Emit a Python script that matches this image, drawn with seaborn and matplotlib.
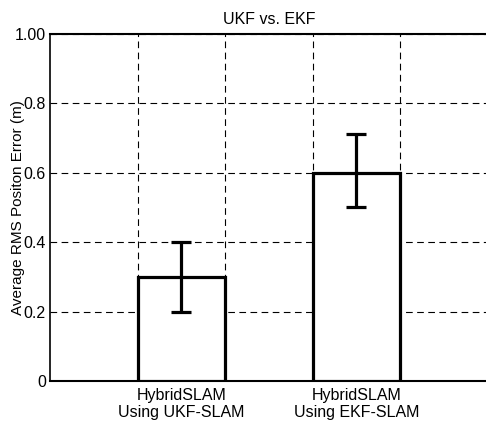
import matplotlib
matplotlib.use("Agg")
import matplotlib.pyplot as plt
import seaborn as sns
import numpy as np
import pandas as pd

categories = ["HybridSLAM\nUsing UKF-SLAM", "HybridSLAM\nUsing EKF-SLAM"]
means = [0.30, 0.60]
err_low = [0.10, 0.10]
err_high = [0.10, 0.11]
yticks = [0, 0.2, 0.4, 0.6, 0.8, 1.0]
yticklabels = ["0", "0.2", "0.4", "0.6", "0.8", "1.00"]

sns.set_theme(style="white")
plt.rcParams['font.family'] = ['Liberation Sans', 'DejaVu Sans']
FS = 11.5

df = pd.DataFrame({"cat": categories, "val": means})

fig = plt.figure(figsize=(4.86, 4.24), dpi=100)
ax = fig.add_axes([50/486, 43/424, 437.5/486, 347.5/424])

sns.barplot(data=df, x="cat", y="val", ax=ax, width=0.5, color="white",
            edgecolor="black", linewidth=2.3, errorbar=None, zorder=3)
xs = np.arange(len(categories))
ax.errorbar(xs, means, yerr=[err_low, err_high], fmt="none", ecolor="black",
            elinewidth=2.3, capsize=7.5, capthick=2.3, zorder=4)

ax.set_xlim(-0.75, 1.75)
ax.set_ylim(0, 1.0)
ax.set_yticks(yticks)
ax.set_yticklabels(yticklabels)
ax.set_xticks(xs)
ax.set_xticklabels(categories, linespacing=1.15)
ax.set_xticks([-0.25, 0.25, 0.75, 1.25], minor=True)
ax.grid(False)
ax.grid(True, which="minor", axis="x", linestyle=(0, (6, 4)), color="black", linewidth=0.8)
ax.grid(True, which="major", axis="y", linestyle=(0, (6, 4)), color="black", linewidth=0.8)
ax.set_axisbelow(True)
ax.tick_params(axis="both", which="both", length=0, colors="black", labelsize=FS)
ax.tick_params(axis="x", pad=5)
ax.tick_params(axis="y", pad=3)
ax.set_xlabel("")
ax.set_ylabel("Average RMS Positon Error (m)", fontsize=11, color="black")
ax.yaxis.set_label_coords(-25/437.5, 0.5)
ax.set_title("UKF vs. EKF", fontsize=FS, pad=7, color="black")

for s in ["left", "bottom", "top"]:
    ax.spines[s].set_color("black")
ax.spines["left"].set_linewidth(1.2)
ax.spines["bottom"].set_linewidth(1.5)
ax.spines["top"].set_linewidth(1.5)
ax.spines["right"].set_visible(False)

fig.savefig("out.png", dpi=100)
